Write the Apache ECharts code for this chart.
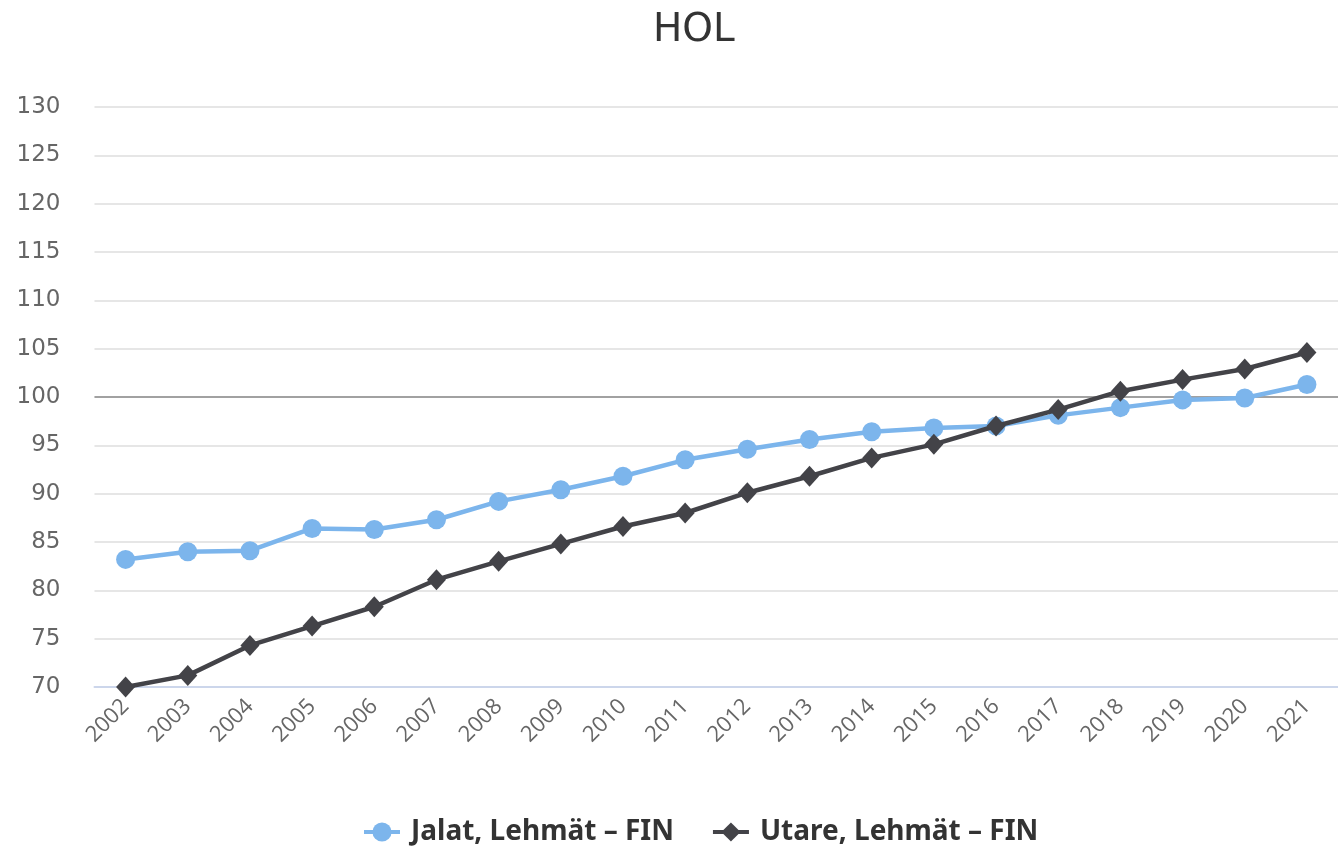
<!DOCTYPE html>
<html>
<head>
<meta charset="utf-8">
<title>HOL</title>
<script src="https://cdn.jsdelivr.net/npm/echarts@6/dist/echarts.min.js"></script>
<style>
  html, body { margin: 0; padding: 0; background: #ffffff; }
  #chart { width: 1338px; height: 847px; }
</style>
</head>
<body>
<div id="chart"></div>
<script>
// Breeding index trend, Holstein cows, Finland
const years = ['2002', '2003', '2004', '2005', '2006', '2007', '2008', '2009', '2010', '2011',
               '2012', '2013', '2014', '2015', '2016', '2017', '2018', '2019', '2020', '2021'];
const jalat = [83.2, 84.0, 84.1, 86.4, 86.3, 87.3, 89.2, 90.4, 91.8, 93.5,
               94.6, 95.6, 96.4, 96.8, 97.0, 98.1, 98.9, 99.7, 99.9, 101.3];
const utare = [70.0, 71.2, 74.3, 76.3, 78.3, 81.1, 83.0, 84.8, 86.6, 88.0,
               90.1, 91.8, 93.7, 95.1, 97.0, 98.7, 100.6, 101.8, 102.9, 104.6];
const seriesNames = ['Jalat, Lehmät – FIN', 'Utare, Lehmät – FIN'];
const yTicks = { min: 70, max: 130, interval: 5 };
const baseline = 100;

const chart = echarts.init(document.getElementById('chart'), null, { renderer: 'canvas' });

chart.setOption({
  backgroundColor: '#ffffff',
  animation: false,
  title: {
    text: 'HOL',
    left: 648,
    top: 6,
    textStyle: { fontFamily: 'DejaVu Sans', fontSize: 39, fontWeight: 'normal', color: '#333333' }
  },
  legend: {
    top: 813,
    left: 357,
    itemGap: 37,
    itemWidth: 36,
    itemHeight: 24,
    lineStyle: { width: 4 },
    textStyle: {
      fontFamily: 'Noto Sans', fontSize: 28, fontWeight: 'bold', color: '#333333',
      padding: [0, 0, 0, 6]
    },
    data: seriesNames
  },
  grid: { left: 94.5, right: -14.5, top: 107, bottom: 160, containLabel: false },
  xAxis: {
    type: 'category',
    data: years,
    boundaryGap: true,
    axisLine: { show: true, lineStyle: { color: '#ccd6eb', width: 2 } },
    axisTick: { show: false },
    axisLabel: {
      rotate: 45,
      margin: 16,
      fontFamily: 'Open Sans',
      fontSize: 22,
      color: '#666666'
    },
    splitLine: { show: false }
  },
  yAxis: {
    type: 'value',
    min: yTicks.min,
    max: yTicks.max,
    interval: yTicks.interval,
    axisLine: { show: false },
    axisTick: { show: false },
    axisLabel: { margin: 34, fontFamily: 'DejaVu Sans', fontSize: 23, color: '#666666' },
    splitLine: { show: true, lineStyle: { color: '#e6e6e6', width: 2 } }
  },
  series: [
    {
      name: seriesNames[0],
      type: 'line',
      data: jalat,
      symbol: 'circle',
      symbolSize: 19,
      lineStyle: { color: '#7cb5ec', width: 4.5 },
      itemStyle: { color: '#7cb5ec' },
      z: 2,
      markLine: {
        silent: true,
        symbol: 'none',
        label: { show: false },
        lineStyle: { color: '#8a8a8a', width: 1.5, type: 'solid' },
        data: [{ yAxis: baseline }],
        z: 1
      }
    },
    {
      name: seriesNames[1],
      type: 'line',
      data: utare,
      symbol: 'diamond',
      symbolSize: [19, 21],
      lineStyle: { color: '#434348', width: 4.5 },
      itemStyle: { color: '#434348' },
      z: 3
    }
  ]
});
</script>
</body>
</html>
